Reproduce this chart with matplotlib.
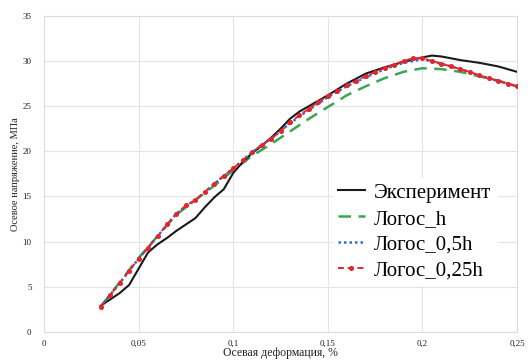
import matplotlib
matplotlib.use("Agg")
import matplotlib.pyplot as plt

plt.rcParams['font.family'] = ['Liberation Serif', 'DejaVu Serif']

# Experiment (black)
exp_x = [0.030, 0.035, 0.040, 0.045, 0.050, 0.055, 0.060, 0.065, 0.070, 0.075,
         0.080, 0.085, 0.090, 0.095, 0.100, 0.105, 0.110, 0.115, 0.120, 0.125,
         0.130, 0.135, 0.140, 0.145, 0.150, 0.160, 0.170, 0.180, 0.190, 0.200,
         0.205, 0.210, 0.220, 0.230, 0.240, 0.250]
exp_y = [2.9, 3.6, 4.3, 5.2, 7.0, 8.8, 9.7, 10.4, 11.2, 11.9,
         12.6, 13.8, 14.9, 15.8, 17.6, 18.8, 19.8, 20.6, 21.5, 22.5,
         23.6, 24.4, 25.0, 25.6, 26.2, 27.5, 28.6, 29.3, 29.9, 30.4,
         30.6, 30.5, 30.1, 29.8, 29.4, 28.8]

# Logos_h (green dashed)
h_x = [0.03, 0.04, 0.05, 0.06, 0.07, 0.08, 0.09, 0.10, 0.11, 0.12, 0.13,
       0.14, 0.15, 0.16, 0.17, 0.18, 0.19, 0.20, 0.21, 0.22, 0.23, 0.24, 0.25]
h_y = [2.8, 5.5, 8.2, 10.6, 13.0, 14.6, 16.2, 17.9, 19.5, 20.8, 22.2,
       23.6, 24.9, 26.2, 27.2, 28.1, 28.8, 29.2, 29.1, 28.8, 28.3, 27.8, 27.2]

# Logos_0,5h (blue dotted)
h05_x = [0.03, 0.04, 0.05, 0.06, 0.07, 0.08, 0.09, 0.10, 0.11, 0.12, 0.13,
         0.14, 0.15, 0.16, 0.17, 0.18, 0.19, 0.20, 0.21, 0.22, 0.23, 0.24, 0.25]
h05_y = [2.8, 5.4, 8.1, 10.6, 13.1, 14.6, 16.4, 18.1, 19.9, 21.4, 23.1,
         24.6, 26.0, 27.2, 28.2, 29.1, 29.8, 30.2, 29.7, 29.1, 28.4, 27.8, 27.2]

# Logos_0,25h (red dashed with markers)
h025_x = [0.030, 0.035, 0.040, 0.045, 0.050, 0.055, 0.060, 0.065, 0.070, 0.075,
          0.080, 0.085, 0.090, 0.095, 0.100, 0.105, 0.110, 0.115, 0.120, 0.125,
          0.130, 0.135, 0.140, 0.145, 0.150, 0.155, 0.160, 0.165, 0.170, 0.175,
          0.180, 0.185, 0.190, 0.195, 0.200, 0.205, 0.210, 0.215, 0.220, 0.225,
          0.230, 0.235, 0.240, 0.245, 0.250]
h025_y = [2.8, 4.1, 5.4, 6.8, 8.1, 9.3, 10.6, 11.9, 13.1, 14.0,
          14.6, 15.5, 16.4, 17.3, 18.1, 19.0, 19.9, 20.7, 21.4, 22.2,
          23.2, 24.0, 24.7, 25.5, 26.1, 26.7, 27.3, 27.8, 28.3, 28.8,
          29.2, 29.6, 30.0, 30.3, 30.3, 30.0, 29.7, 29.4, 29.1, 28.8,
          28.4, 28.1, 27.8, 27.5, 27.2]

labels = ['Эксперимент', 'Логос_h', 'Логос_0,5h', 'Логос_0,25h']
xticks = [0, 0.05, 0.1, 0.15, 0.2, 0.25]
xtick_labels = ['0', '0,05', '0,1', '0,15', '0,2', '0,25']
yticks = [0, 5, 10, 15, 20, 25, 30, 35]

fig = plt.figure(figsize=(5.28, 3.6), dpi=100)
ax = fig.add_axes([0.0833, 0.078, 0.896, 0.878])

ax.plot(exp_x, exp_y, color='#1a1a1a', lw=1.5, label=labels[0], zorder=3)
ax.plot(h_x, h_y, color='#3aa655', lw=1.8, ls=(0, (5, 3)), label=labels[1], zorder=2)
ax.plot(h05_x, h05_y, color='#2a6fc9', lw=1.8, ls=(0, (1, 1.2)), label=labels[2], zorder=4)
ax.plot(h025_x, h025_y, color='#e2262b', lw=1.4, ls=(0, (3, 2)), marker='o',
        markersize=2.6, label=labels[3], zorder=5)

ax.set_xlim(0, 0.25)
ax.set_ylim(0, 35)
ax.set_xticks(xticks)
ax.set_xticklabels(xtick_labels)
ax.set_yticks(yticks)
ax.grid(True, color='#e4e4e4', lw=0.8)
ax.tick_params(length=0, labelsize=6.5, colors='#222222')
ax.tick_params(axis='x', pad=6)
ax.tick_params(axis='y', pad=9)
for s in ax.spines.values():
    s.set_color('#dcdcdc')
    s.set_linewidth(0.8)

ax.set_xlabel('Осевая деформация, %', fontsize=8.5, labelpad=-1, color='#222222')
ax.set_ylabel('Осевое напряжение, МПа', fontsize=7.5, labelpad=2, color='#222222')

leg = ax.legend(loc='upper left', bbox_to_anchor=(0.61, 0.487), fontsize=15,
                frameon=True, fancybox=False, framealpha=1, edgecolor='white',
                handlelength=1.3, handletextpad=0.45, labelspacing=0.3,
                borderpad=0.25, borderaxespad=0)

fig.savefig('out.png', dpi=100)
